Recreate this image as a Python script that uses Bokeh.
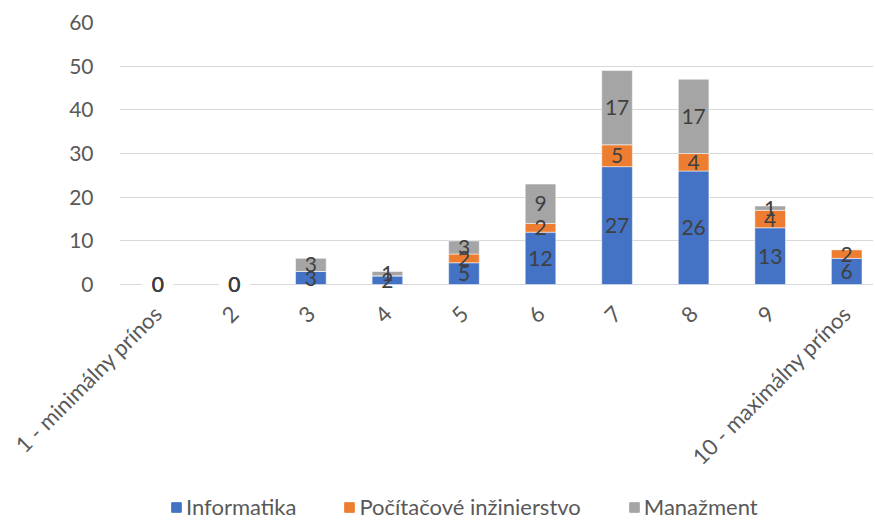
from bokeh.plotting import figure
from bokeh.models import ColumnDataSource, Range1d, Legend, LegendItem, FixedTicker, LabelSet
from bokeh.layouts import column
from bokeh.core.properties import value
from bokeh.embed import file_html
from bokeh.resources import INLINE
import math

categories = ["1 - minimálny prínos", "2", "3", "4", "5", "6", "7", "8", "9", "10 - maximálny prínos"]
series_names = ["Informatika", "Počítačové inžinierstvo", "Manažment"]
informatika = [0, 0, 3, 2, 5, 12, 27, 26, 13, 6]
pocitacove = [0, 0, 0, 0, 2, 2, 5, 4, 4, 2]
manazment = [0, 0, 3, 1, 3, 9, 17, 17, 1, 0]
colors = ["#4472C4", "#ED7D31", "#A5A5A5"]
y_ticks = [0, 10, 20, 30, 40, 50, 60]

FONT = "Lato"
FS = "21px"

xpos = list(range(len(categories)))
data = {"x": xpos, "Informatika": informatika,
        "Počítačové inžinierstvo": pocitacove, "Manažment": manazment}
src = ColumnDataSource(data)

p = figure(x_range=Range1d(-0.5, 9.35), y_range=Range1d(-2.5, 60),
           frame_width=754, frame_height=273, output_backend="svg", toolbar_location=None,
           min_border_left=119, min_border_top=22, min_border_right=0, min_border_bottom=0)
p.outline_line_color = None

renderers = p.vbar_stack(series_names, x="x", width=0.4, color=colors, source=src,
                         line_color="white", line_width=0.5)

# data labels
lx, ly, lt = [], [], []
series = [informatika, pocitacove, manazment]
for i in xpos:
    total = sum(s[i] for s in series)
    base = 0
    for s in series:
        v = s[i]
        if total == 0:
            lx.append(i); ly.append(0); lt.append(str(v))
        elif v > 0:
            lx.append(i); ly.append(base + v / 2); lt.append(str(v))
        base += v
lsrc = ColumnDataSource(dict(x=lx, y=ly, t=lt))
labels = LabelSet(x="x", y="y", text="t", source=lsrc, text_align="center", text_baseline="middle",
                  text_font=value(FONT), text_font_size=value(FS), text_color=value("#404040"))
p.add_layout(labels)

p.yaxis.ticker = FixedTicker(ticks=y_ticks)
p.yaxis.axis_line_color = None
p.yaxis.major_tick_line_color = None
p.yaxis.minor_tick_line_color = None
p.yaxis.major_label_text_font = FONT
p.yaxis.major_label_text_font_size = FS
p.yaxis.major_label_text_color = "#595959"
p.yaxis.major_label_standoff = 20

p.xaxis.ticker = FixedTicker(ticks=xpos)
p.xaxis.major_label_overrides = {i: c for i, c in zip(xpos, categories)}
p.xaxis.axis_line_color = None
p.xaxis.major_tick_line_color = None
p.xaxis.minor_tick_line_color = None
p.xaxis.major_label_orientation = math.pi / 4
p.xaxis.major_label_text_font = FONT
p.xaxis.major_label_text_font_size = "22px"
p.xaxis.major_label_text_color = "#595959"
p.xaxis.major_label_standoff = 8

p.xgrid.grid_line_color = None
p.ygrid.grid_line_color = "#D9D9D9"
p.ygrid.grid_line_width = 1

# legend strip: same stacked series, kept out of view, only used for the legend swatches
lf = figure(width=874, height=38, x_range=Range1d(-0.5, 9.35), y_range=Range1d(1000, 1001),
            output_backend="svg", toolbar_location=None,
            min_border_left=0, min_border_right=0, min_border_top=0, min_border_bottom=0)
lf.axis.visible = False
lf.grid.visible = False
lf.outline_line_color = None
lrend = lf.vbar_stack(series_names, x="x", width=0.4, color=colors, source=src)

legend = Legend(items=[LegendItem(label=n, renderers=[r]) for n, r in zip(series_names, lrend)],
                orientation="horizontal", location=(51, 0),
                label_text_font=FONT, label_text_font_size="22px", label_text_color="#595959",
                glyph_width=12, glyph_height=12, spacing=47, label_standoff=4,
                border_line_color=None, background_fill_alpha=0, padding=0, margin=0)
lf.add_layout(legend, "center")

layout = column(p, lf, spacing=0)
open("out.html", "w").write(file_html(layout, INLINE))
